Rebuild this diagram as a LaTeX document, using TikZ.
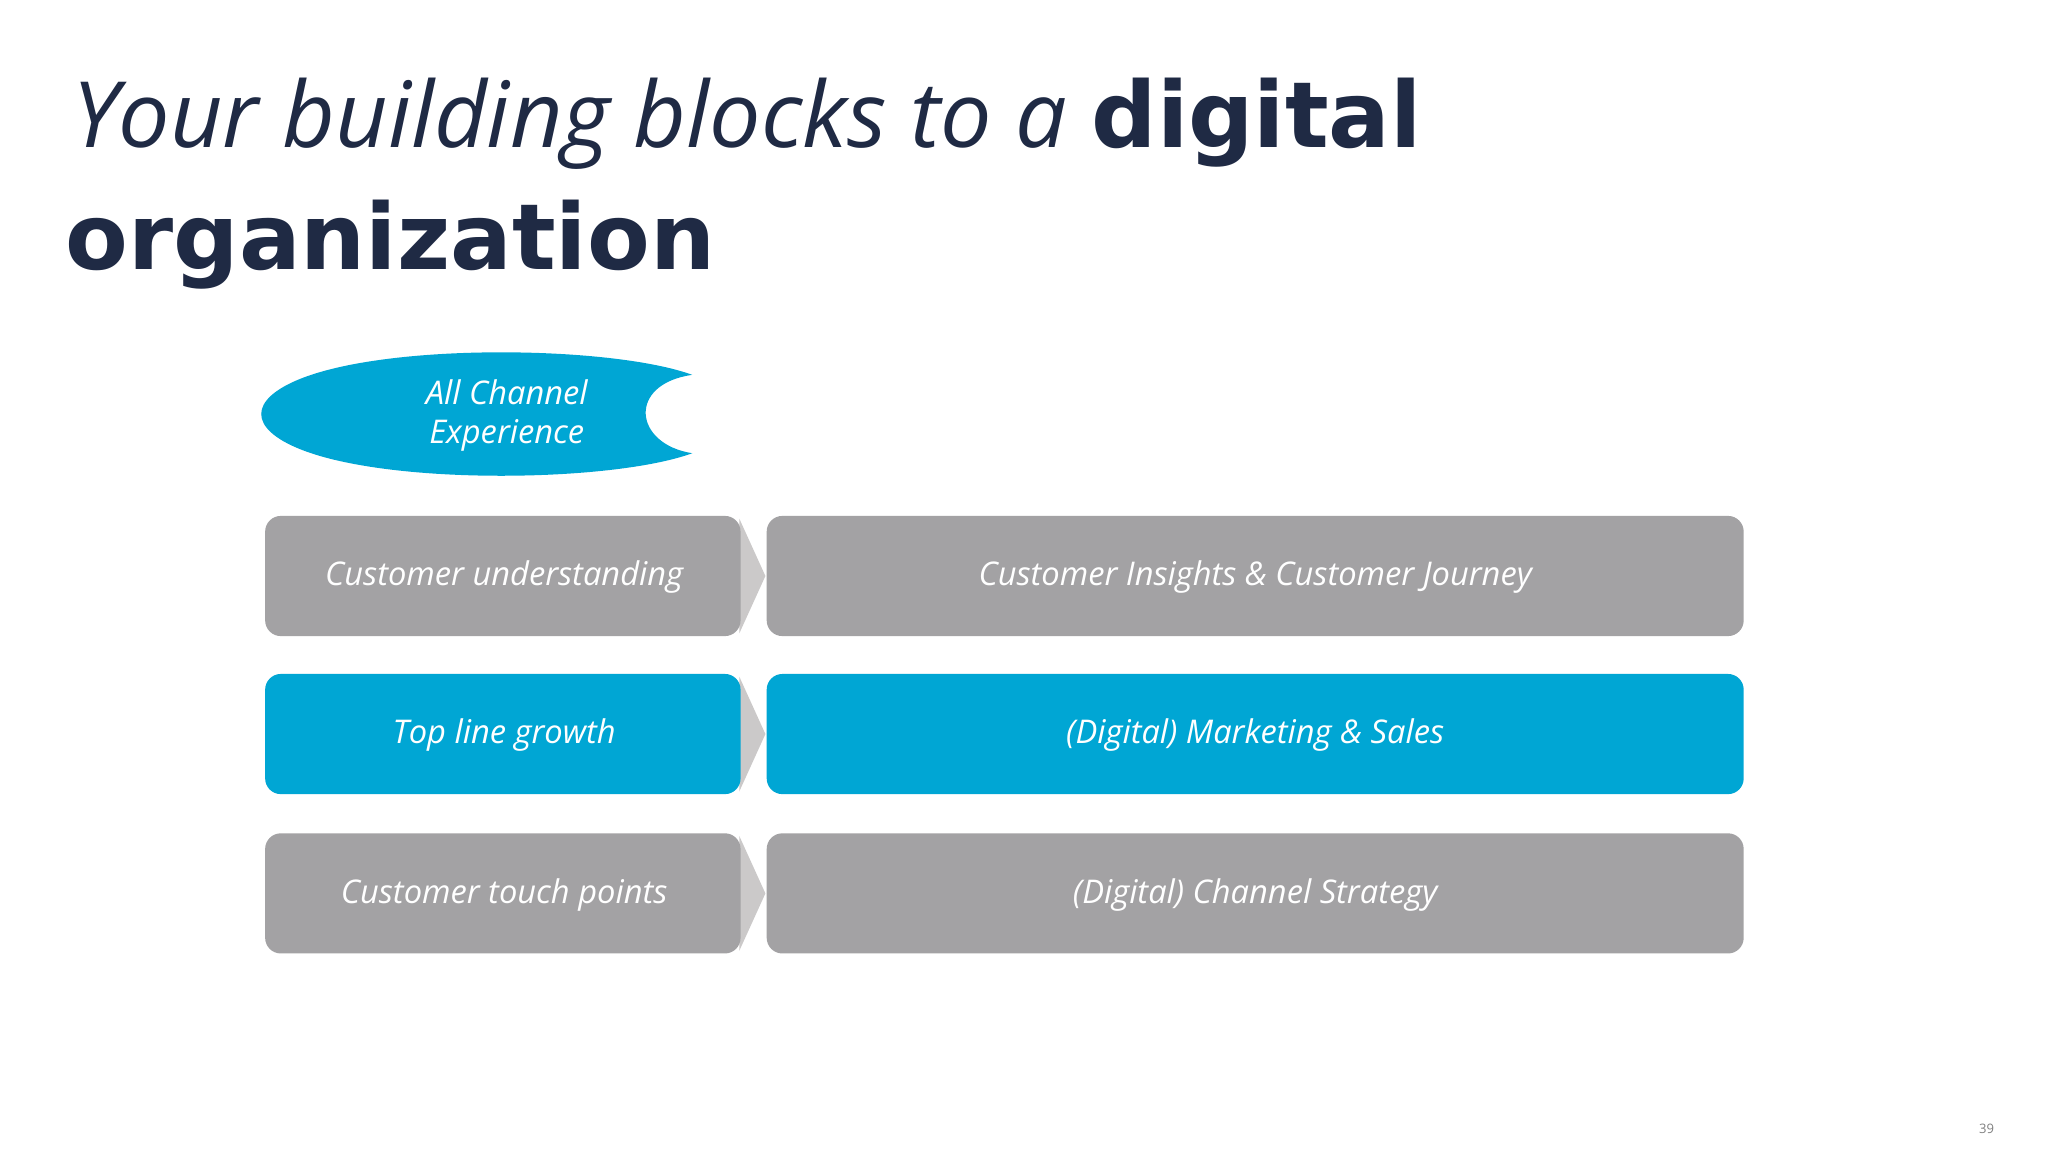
\documentclass[tikz,border=0pt]{standalone}
\usepackage{fontspec}
\setmainfont{Open Sans}
\newfontfamily\heavy{DejaVu Sans}
\definecolor{navy}{HTML}{1F2A44}
\definecolor{boxgray}{HTML}{A3A2A4}
\definecolor{boxblue}{HTML}{00A6D4}
\definecolor{chev}{HTML}{CBC9C9}
\tikzset{
 box/.style={rounded corners=6pt,inner sep=0pt},
 lbl/.style={text=white,font=\itshape\fontsize{12.5}{15}\selectfont,align=center},
}
\begin{document}
\begin{tikzpicture}[x=0.5pt,y=-0.5pt]
\useasboundingbox (0,0) rectangle (1568,882);
\fill[white] (0,0) rectangle (1568,882);
\node[anchor=base west,inner sep=0pt,text=navy] (t1) at (55,113)
 {\fontsize{35}{40}\selectfont\itshape Your building blocks to a \heavy\bfseries\upshape digital};
\node[anchor=base west,inner sep=0pt,text=navy] (t2) at (50,206)
 {\fontsize{35}{40}\selectfont\heavy\bfseries organization};
% ellipse with notch
\fill[boxblue] (530,287) .. controls (470,265) and (300,262) .. (230,290)
 .. controls (190,306) and (190,328) .. (230,344)
 .. controls (300,372) and (470,369) .. (530,347)
 .. controls (485,340) and (480,294) .. (530,287) -- cycle;
\node[lbl,font=\itshape\fontsize{12.5}{15}\selectfont] (ace) at (388,318) {All Channel\\Experience};
\foreach \y/\c/\l/\r/\n in {395/boxgray/Customer understanding/Customer Insights \& Customer Journey/a,
 516/boxblue/Top line growth/(Digital) Marketing \& Sales/b,
 638/boxgray/Customer touch points/(Digital) Channel Strategy/c}{
 \fill[chev] (566,\y+2) -- (586,\y+46) -- (566,\y+90) -- cycle;
 \fill[\c,box] (203,\y) rectangle (567,\y+92);
 \fill[\c,box] (587,\y) rectangle (1335,\y+92);
 \node[lbl] (l\n) at (386,\y+47) {\l};
 \node[lbl] (r\n) at (961,\y+47) {\r};
}
\node[text=gray,font=\fontsize{5}{6}\selectfont] (pg) at (1521,864) {39};
\end{tikzpicture}
\end{document}
